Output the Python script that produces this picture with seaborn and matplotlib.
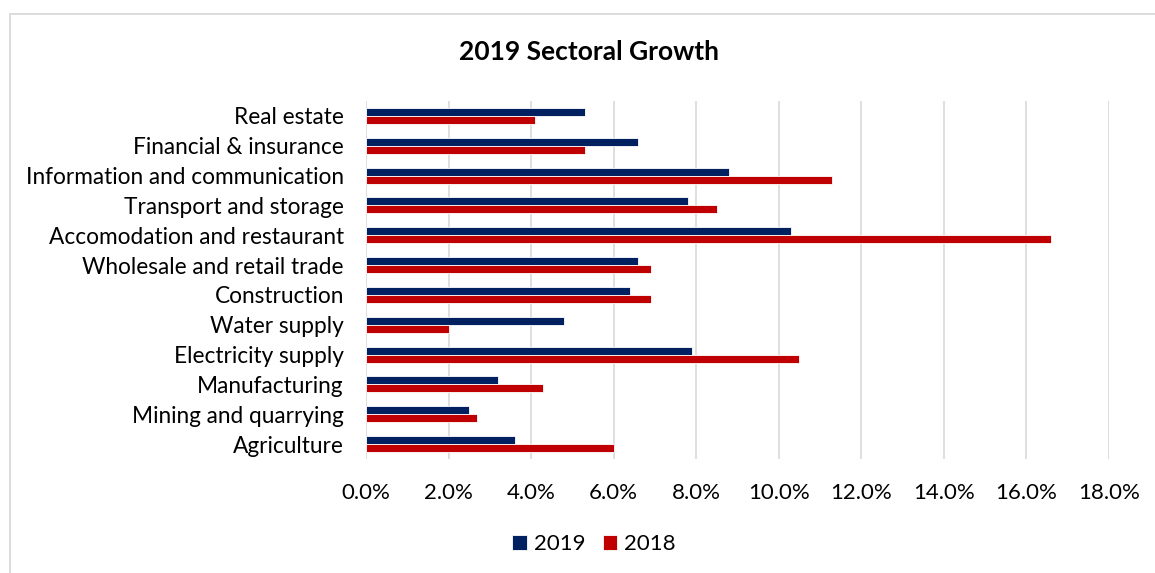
import matplotlib
matplotlib.use("Agg")
import matplotlib.pyplot as plt
from matplotlib.patches import Rectangle
from matplotlib.ticker import FuncFormatter
import pandas as pd
import seaborn as sns

sectors = [
    "Real estate",
    "Financial & insurance",
    "Information and communication",
    "Transport and storage",
    "Accomodation and restaurant",
    "Wholesale and retail trade",
    "Construction",
    "Water supply",
    "Electricity supply",
    "Manufacturing",
    "Mining and quarrying",
    "Agriculture",
]
growth_2019 = [5.3, 6.6, 8.8, 7.8, 10.3, 6.6, 6.4, 4.8, 7.9, 3.2, 2.5, 3.6]
growth_2018 = [4.1, 5.3, 11.3, 8.5, 16.6, 6.9, 6.9, 2.0, 10.5, 4.3, 2.7, 6.0]
years = ["2019", "2018"]
x_ticks = [0, 2, 4, 6, 8, 10, 12, 14, 16, 18]

df = pd.DataFrame({
    "Sector": sectors * 2,
    "Growth": growth_2019 + growth_2018,
    "Year": [years[0]] * len(sectors) + [years[1]] * len(sectors),
})

sns.set_style("white")
plt.rcParams["font.family"] = ["Lato", "DejaVu Sans"]
plt.rcParams["text.color"] = "black"

W, H = 1155, 573
fig = plt.figure(figsize=(W / 100, H / 100), dpi=100)
ax = fig.add_axes([366 / W, 1 - 459 / H, (1109 - 366) / W, (459 - 101) / H])

palette = {"2019": "#002060", "2018": "#C00000"}
sns.barplot(data=df, x="Growth", y="Sector", hue="Year", order=sectors,
            hue_order=years, palette=palette, width=0.54, orient="h",
            saturation=1, ax=ax, legend=True, linewidth=0.6,
            edgecolor="white")

ax.set_xlim(0, 18)
ax.set_ylim(len(sectors) - 0.5, -0.5)
ax.set_xticks(x_ticks)
ax.xaxis.set_major_formatter(FuncFormatter(lambda v, _: f"{v:.1f}%"))
ax.grid(axis="x", color="#d9d9d9", linewidth=1.2)
ax.set_axisbelow(True)
for s in ax.spines.values():
    s.set_visible(False)
ax.set_xlabel("")
ax.set_ylabel("")
ax.tick_params(axis="x", length=0, pad=17, labelsize=16, labelcolor="black")
ax.tick_params(axis="y", length=0, pad=16, labelsize=16.3, labelcolor="black")

handles, labels = ax.get_legend_handles_labels()
ax.get_legend().remove()
fig.legend(handles, labels, loc="center", bbox_to_anchor=(594 / W, 1 - 544 / H),
           ncol=2, frameon=False, fontsize=16, handlelength=0.65,
           handleheight=0.65, handletextpad=0.3, columnspacing=0.8,
           labelcolor="black")

fig.text(589 / W, 1 - 52 / H, "2019 Sectoral Growth", ha="center", va="center",
         fontsize=19, fontweight="bold", color="black")

# chart area frame
fig.patches.append(Rectangle((9.5 / W, -0.1), 1.2, 1 - 13.5 / H + 0.1,
                             transform=fig.transFigure, fill=False,
                             edgecolor="#d9d9d9", linewidth=1.3))

fig.savefig("out.png", dpi=100, facecolor="white")
